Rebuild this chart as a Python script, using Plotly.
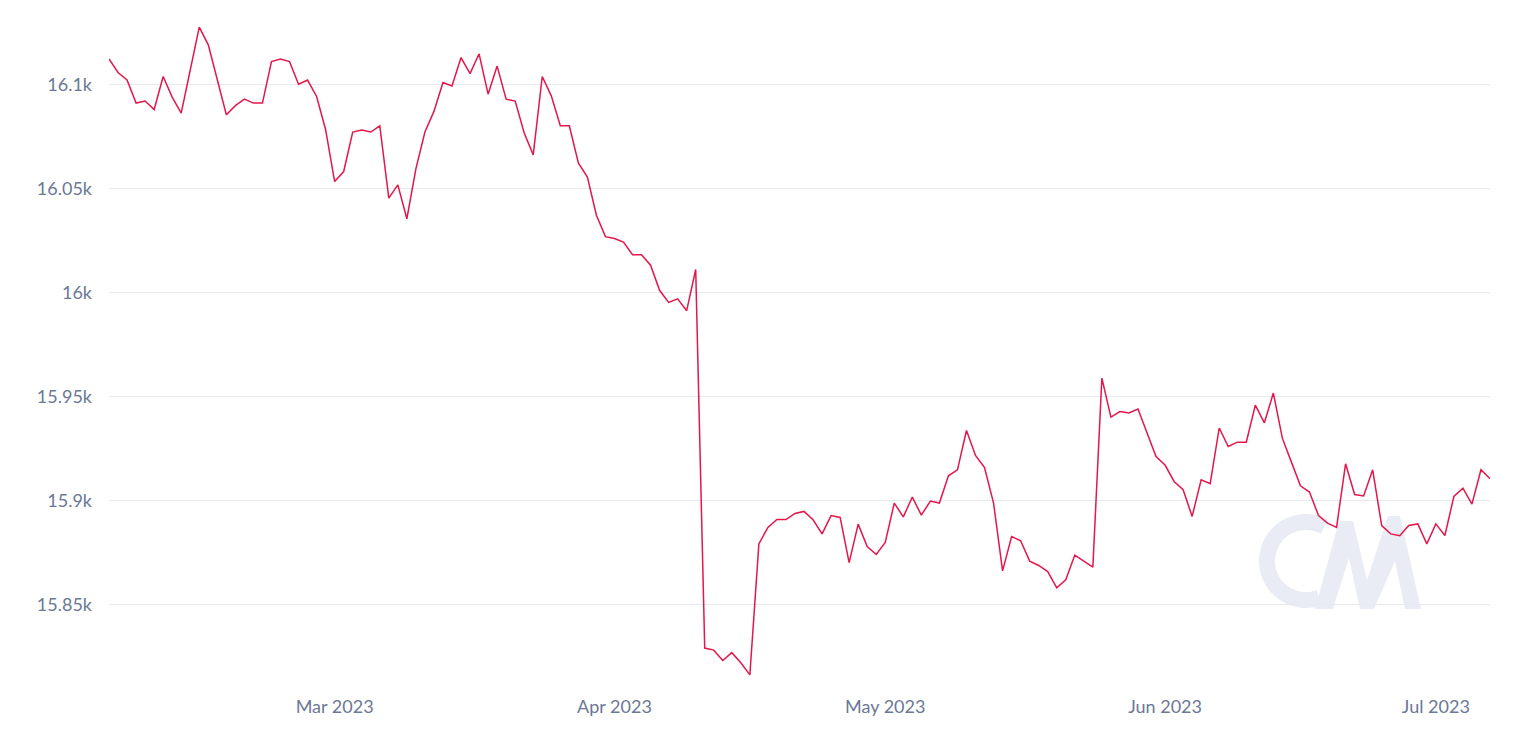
import numpy as np
import pandas as pd
import plotly.graph_objects as go

start_date = "2023-02-04"
values = [
    16112.4, 16105.9, 16102.3, 16091.2, 16092.2, 16088.1, 16104.0, 16094.1, 16086.4, 16107.1,
    16127.7, 16119.2, 16102.4, 16085.6, 16090.0, 16093.1, 16091.2, 16091.2, 16111.2, 16112.4,
    16111.2, 16100.3, 16102.3, 16094.4, 16078.4, 16053.5, 16058.3, 16077.3, 16078.2, 16077.3,
    16080.3, 16045.5, 16051.9, 16035.6, 16059.6, 16077.3, 16087.2, 16101.1, 16099.4, 16113.1,
    16105.4, 16114.9, 16095.5, 16109.0, 16093.1, 16092.2, 16076.8, 16066.3, 16104.0, 16094.7,
    16080.3, 16080.3, 16062.4, 16055.6, 16037.3, 16027.0, 16026.1, 16024.4, 16018.3, 16018.3,
    16013.3, 16001.2, 15995.4, 15997.1, 15991.4, 16011.2, 15829.2, 15828.2, 15823.2, 15827.0,
    15822.1, 15816.3, 15879.3, 15887.2, 15891.0, 15891.0, 15893.9, 15894.9, 15890.9, 15884.1,
    15892.9, 15892.0, 15870.3, 15888.8, 15878.0, 15874.2, 15880.0, 15898.9, 15892.3, 15901.8,
    15893.1, 15899.9, 15898.9, 15912.0, 15914.9, 15933.8, 15921.8, 15916.0, 15898.9, 15866.3,
    15882.8, 15880.8, 15871.0, 15868.9, 15866.0, 15858.2, 15862.0, 15873.9, 15871.0, 15868.1,
    15959.0, 15940.2, 15942.9, 15942.2, 15944.1, 15932.8, 15921.3, 15917.2, 15909.3, 15905.3,
    15892.5, 15910.1, 15908.2, 15935.0, 15926.1, 15928.2, 15928.2, 15946.0, 15937.5, 15951.8,
    15930.0, 15918.6, 15907.2, 15904.2, 15892.9, 15889.3, 15887.2, 15917.8, 15903.0, 15902.3,
    15914.9, 15888.1, 15884.1, 15883.2, 15888.1, 15888.9, 15879.3, 15888.9, 15883.3, 15902.1,
    15906.1, 15898.4, 15914.9, 15910.6,
]
dates = pd.date_range(start_date, periods=len(values), freq="D")

y_tickvals = [15850, 15900, 15950, 16000, 16050, 16100]
y_ticktext = ["15.85k", "15.9k", "15.95k", "16k", "16.05k", "16.1k"]

# page has an 8px body margin; size the figure to fit inside the window
OFF = 8
W, H = 1509, 713
ML, MR, MT, MB = 101, 27, 4, 33
PW, PH = W - ML - MR, H - MT - MB

def px(x):
    return (x - OFF - ML) / PW

def py(y):
    return (H - MB - (y - OFF)) / PH

wm_color = "#e9ecf4"
shapes = []
# "C" of watermark logo
cx, cy, r = 1306, 561, 39
ang = np.linspace(np.radians(62), np.radians(290), 60)
pts = [(px(cx + r * np.cos(a)), py(cy - r * np.sin(a))) for a in ang]
path = "M " + " L ".join(f"{a:.5f},{b:.5f}" for a, b in pts)
shapes.append(dict(type="path", path=path, xref="paper", yref="paper",
                   line=dict(color=wm_color, width=16), layer="below"))
# "M" of watermark logo (filled outline)
m_pts = [(1315, 609), (1339, 521), (1353, 521), (1367, 580), (1388, 516),
         (1400, 516), (1421, 609), (1405, 609), (1395, 561), (1374, 609),
         (1360, 609), (1349, 558), (1333, 609)]
path = "M " + " L ".join(f"{px(a):.5f},{py(b):.5f}" for a, b in m_pts) + " Z"
shapes.append(dict(type="path", path=path, xref="paper", yref="paper",
                   fillcolor=wm_color, line=dict(width=0), layer="below"))

fig = go.Figure()
fig.add_trace(go.Scatter(
    x=dates, y=values, mode="lines",
    line=dict(color="#e3174a", width=1.5),
    hoverinfo="x+y", showlegend=False,
))

fig.update_layout(
    width=W, height=H,
    margin=dict(l=ML, r=MR, t=MT, b=MB, pad=0),
    paper_bgcolor="white", plot_bgcolor="white",
    font=dict(family="Lato, sans-serif", size=18, color="#6b7896"),
    shapes=shapes,
    xaxis=dict(
        range=[dates[0], dates[-1]],
        showgrid=False, zeroline=False, showline=False,
        tickformat="%b %Y", dtick="M1", tick0="2023-03-01",
        ticks="", ticklabelstandoff=6,
        tickfont=dict(family="Lato, sans-serif", size=18, color="#6b7896"),
    ),
    yaxis=dict(
        range=[15810, 16135],
        tickvals=y_tickvals, ticktext=y_ticktext,
        showgrid=True, gridcolor="#e6e9f0", gridwidth=1,
        zeroline=False, showline=False, ticks="",
        ticklabelstandoff=16,
        tickfont=dict(family="Lato, sans-serif", size=18, color="#6b7896"),
    ),
)

fig.write_html("out.html")
